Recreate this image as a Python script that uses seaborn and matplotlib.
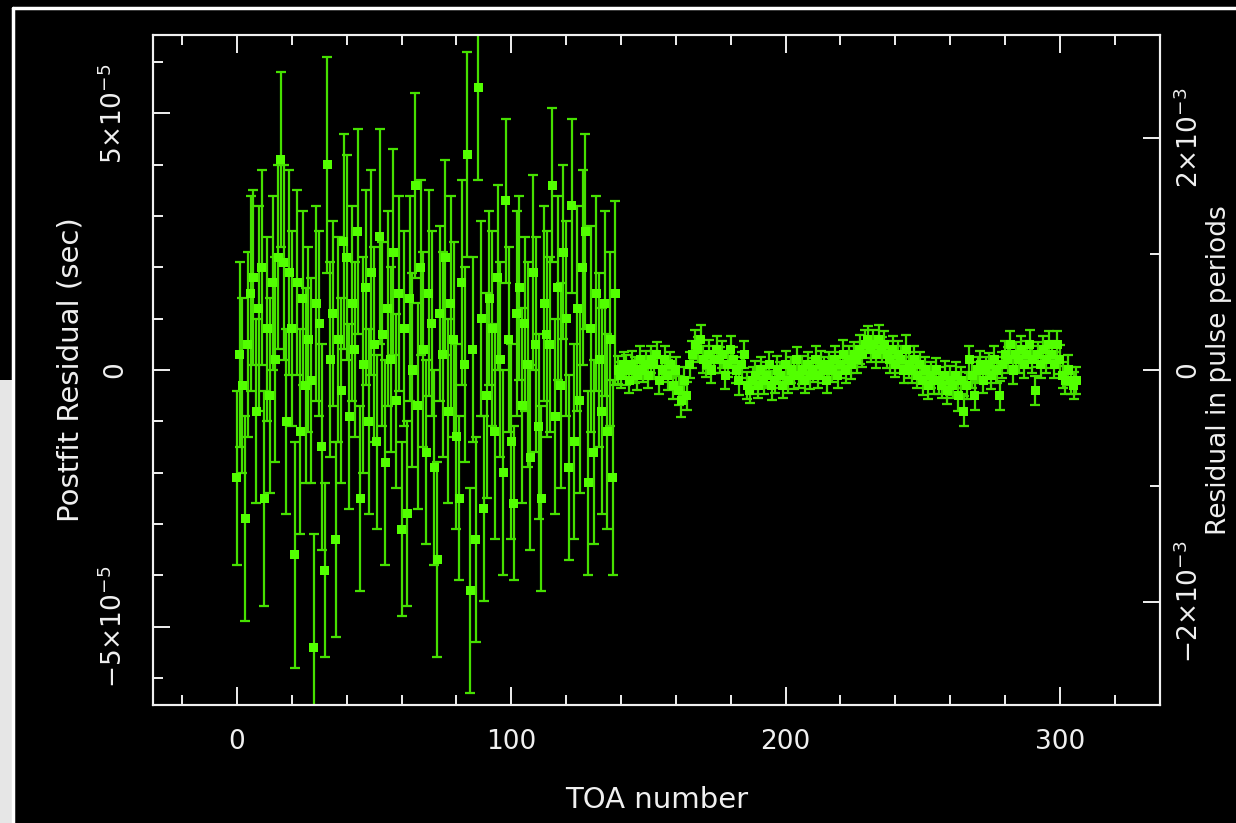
import numpy as np
import pandas as pd
import matplotlib
matplotlib.use("Agg")
import matplotlib.pyplot as plt
from matplotlib.patches import Rectangle
from matplotlib.lines import Line2D
from matplotlib.ticker import MultipleLocator, FixedLocator
import seaborn as sns

# pulse period used for the right-hand axis (s)
period = 0.0226

# postfit residuals (microseconds), early noisy TOAs 0..138
resid_early_us = [
    -21, 3, -3, -29, 5, 15, 18, -8, 12, 20,
    -25, 8, -5, 17, 2, 22, 41, 21, -10, 19,
    8, -36, 17, -12, 14, -3, 6, -2, -54, 13,
    9, -15, -39, 40, 2, 11, -33, 6, -4, 25,
    22, -9, 13, 4, 27, -25, 1, 16, -10, 19,
    5, -14, 26, 7, -18, 12, 2, 23, -6, 15,
    -31, 8, -28, 14, 0, 36, -7, 20, 4, -16,
    15, 9, -19, -37, 11, 3, 22, -8, 13, 6,
    -13, -25, 17, 1, 42, -43, 4, -33, 55, 10,
    -27, -5, 14, 8, -12, 18, 2, -20, 33, 6,
    -14, -26, 11, 16, -7, 9, 1, -17, 19, 5,
    -11, -25, 13, 7, 5, 36, -9, 16, -3, 23,
    10, -19, 32, -14, 12, -6, 20, 27, -22, 8,
    -16, 15, 2, -8, 13, -12, 6, -21, 15,
]
err_early_us = [
    17, 18, 17, 20, 18, 19, 17, 18, 20, 19,
    21, 18, 19, 17, 20, 18, 17, 19, 18, 20,
    19, 22, 18, 20, 17, 19, 18, 20, 22, 19,
    18, 20, 17, 21, 19, 18, 19, 20, 18, 21,
    20, 18, 19, 17, 20, 18, 21, 19, 18, 20,
    19, 17, 21, 18, 20, 19, 18, 20, 17, 19,
    17, 19, 18, 20, 19, 18, 20, 17, 19, 18,
    20, 18, 19, 19, 17, 20, 19, 18, 21, 19,
    18, 16, 20, 19, 20, 20, 18, 20, 18, 19,
    18, 20, 17, 19, 21, 18, 19, 20, 16, 18,
    19, 15, 20, 18, 19, 17, 20, 18, 19, 21,
    18, 18, 19, 20, 17, 15, 19, 18, 20, 17,
    19, 18, 17, 19, 20, 18, 19, 19, 18, 20,
    18, 19, 17, 20, 18, 19, 17, 19, 18,
]

# later, much more precise TOAs 139..306
resid_late_us = [
    0, -1, 1, 0, -2, 1, 0, -1, 2, 0, 1, -1,
    2, 1, 3, -2, 0, 2, -1, 1, -3, 0,
    -4, -6, -2, -5, 1,
    3, 5, 4, 6, 2, 1, 3, 0, 2, 4,
    2, 3, -1, 1, 4, 2, 0, -2, 1, 3,
    -3, -4, -2, -1, -3, 0, -2, -1, 1, -3,
    -2, 0, -1, -3, 1, -2, 0, -1, 2, -1,
    0, -2, 1, -1, 0, 2, -1, 1, 0, -2,
    1, 0, 2, -1, 1, 3, 0, 2, 1, 3,
    2, 4, 3, 5, 6, 4, 5, 3, 6, 4,
    5, 3, 2, 4, 1, 3, 2, 0, 4, 1,
    0, 2, -1, 1, -2, 0, -3, -1, -2, 0,
    -2, -3, -1, -4, -2, -3, -1, -5, -2, -8,
    -3, 2, -1, -5, 0, 1, -2, 0, 1, -1,
    2, 0, -5, 1, 3, 2, 5, 0, 3, 2,
    4, 1, 3, 5, 2, -4, 3, 1, 4, 2,
    5, 3, 1, 5, 2, -1, -2, 0, -2, -3, -2,
]
err_late_us = [
    2.8, 2.5, 2.6, 3.0, 2.4, 2.7, 2.5, 2.9, 2.6, 2.4, 2.7, 2.5,
    2.6, 2.8, 2.5, 2.7, 2.4, 2.6, 2.9, 2.5, 2.7, 2.6,
    2.8, 3.1, 2.6, 2.7, 2.5,
    2.6, 2.8, 2.5, 2.7, 2.6, 2.4, 2.8, 2.5, 2.6, 2.7,
    2.5, 2.6, 2.8, 2.4, 2.7, 2.5, 2.6, 2.9, 2.5, 2.6,
    2.7, 2.5, 2.6, 2.8, 2.4, 2.6, 2.7, 2.5, 2.6, 2.8,
    2.5, 2.7, 2.6, 2.4, 2.8, 2.5, 2.6, 2.7, 2.5, 2.6,
    2.7, 2.5, 2.6, 2.8, 2.4, 2.6, 2.5, 2.7, 2.6, 2.5,
    2.6, 2.4, 2.7, 2.5, 2.6, 2.8, 2.5, 2.6, 2.7, 2.5,
    2.6, 2.8, 2.5, 2.7, 2.6, 2.5, 2.7, 2.6, 2.8, 2.5,
    2.6, 2.7, 2.5, 2.6, 2.4, 2.7, 2.6, 2.5, 2.8, 2.6,
    2.5, 2.7, 2.6, 2.5, 2.8, 2.6, 2.7, 2.5, 2.6, 2.4,
    2.6, 2.5, 2.7, 2.6, 2.8, 2.5, 2.6, 2.9, 2.6, 3.0,
    2.7, 2.6, 2.5, 2.8, 2.6, 2.7, 2.5, 2.6, 2.4, 2.7,
    2.6, 2.5, 2.8, 2.6, 2.7, 2.5, 2.6, 2.7, 2.5, 2.6,
    2.7, 2.5, 2.6, 2.8, 2.6, 2.9, 2.5, 2.6, 2.7, 2.5,
    2.6, 2.7, 2.5, 2.6, 2.8, 2.6, 2.7, 2.9, 2.6, 2.7, 2.6,
]

x_major_ticks = [0, 100, 200, 300]
y_ticks = [-5e-5, 0, 5e-5]
y_ticklabels = ["\u22125\u00d710$^{-5}$", "0", "5\u00d710$^{-5}$"]
p_ticks = [-2e-3, 0, 2e-3]
p_ticklabels = ["\u22122\u00d710$^{-3}$", "0", "2\u00d710$^{-3}$"]

resid_us = resid_early_us + resid_late_us
err_us = err_early_us + err_late_us
df = pd.DataFrame({
    "toa": np.arange(len(resid_us)),
    "resid": np.array(resid_us) * 1e-6,
    "err": np.array(err_us) * 1e-6,
})

sns.set_style("dark")
plt.rcParams['font.family'] = ['DejaVu Sans']
plt.rcParams['mathtext.fontset'] = 'dejavusans'

green = "#52ff00"
bar_green = "#46e000"
fg = "#f0f0f0"

fig = plt.figure(figsize=(12.36, 8.23), dpi=100, facecolor="black")

# screenshot framing: window border and light strip on the left
fig.patches.append(Rectangle((0, 0), 13 / 1236, (823 - 380) / 823, transform=fig.transFigure,
                             facecolor="#e6e6e6", edgecolor="none", zorder=0))
fig.lines.append(Line2D([13 / 1236, 13 / 1236], [0, 1 - 8 / 823], transform=fig.transFigure,
                        color="white", linewidth=2.5))
fig.lines.append(Line2D([13 / 1236, 1], [1 - 8 / 823, 1 - 8 / 823], transform=fig.transFigure,
                        color="white", linewidth=2.5))

ax = fig.add_axes([153 / 1236, 118 / 823, 1007 / 1236, 670 / 823])
ax.set_facecolor("black")

ax.errorbar(df["toa"], df["resid"], yerr=df["err"], fmt="none", ecolor=bar_green,
            elinewidth=1.6, capsize=3.5, capthick=1.6, zorder=2)
sns.scatterplot(data=df, x="toa", y="resid", marker="s", s=42, color=green,
                edgecolor="none", linewidth=0, ax=ax, zorder=3)

ax.set_xlim(-30.6, 336.5)
ax.set_ylim(-6.53e-5, 6.53e-5)
ax.grid(False)

ax.xaxis.set_major_locator(FixedLocator(x_major_ticks))
ax.xaxis.set_minor_locator(MultipleLocator(20))
ax.set_yticks(y_ticks, labels=y_ticklabels)
ax.yaxis.set_minor_locator(MultipleLocator(1e-5))

ax.tick_params(axis="both", which="both", direction="in", colors=fg, labelcolor=fg)
ax.tick_params(axis="x", which="both", top=True, bottom=True)
ax.tick_params(axis="x", which="major", length=13, width=1.4, labelsize=19, pad=17)
ax.tick_params(axis="x", which="minor", length=7, width=1.4)
ax.tick_params(axis="y", which="both", left=True, right=False)
ax.tick_params(axis="y", which="major", length=12, width=1.4, labelsize=19, pad=18, labelrotation=90)
ax.tick_params(axis="y", which="minor", length=7, width=1.4)
for lab in ax.get_yticklabels():
    lab.set_verticalalignment("center")

for sp in ax.spines.values():
    sp.set_color(fg)
    sp.set_linewidth(1.5)

ax.set_xlabel("TOA number", color=fg, fontsize=21, va="center")
ax.xaxis.set_label_coords(0.5, -0.142)
ax.set_ylabel("Postfit Residual (sec)", color=fg, fontsize=21, va="center")
ax.yaxis.set_label_coords(-0.0824, 0.5)

# right axis: residual in pulse periods
ax2 = ax.twinx()
ax2.set_ylim(np.array(ax.get_ylim()) / period)
ax2.set_yticks(p_ticks, labels=p_ticklabels)
ax2.yaxis.set_minor_locator(MultipleLocator(1e-3))
ax2.tick_params(axis="y", which="both", direction="in", colors=fg, labelcolor=fg)
ax2.tick_params(axis="y", which="major", length=12, width=1.4, labelsize=19, pad=11, labelrotation=90)
ax2.tick_params(axis="y", which="minor", length=7, width=1.4)
for lab in ax2.get_yticklabels():
    lab.set_verticalalignment("center")
for sp in ax2.spines.values():
    sp.set_color(fg)
    sp.set_linewidth(1.5)
ax2.set_ylabel("Residual in pulse periods", color=fg, fontsize=19, va="center", rotation=90)
ax2.yaxis.set_label_coords(1.0585, 0.5)

fig.savefig("out.png", dpi=100, facecolor="black")
